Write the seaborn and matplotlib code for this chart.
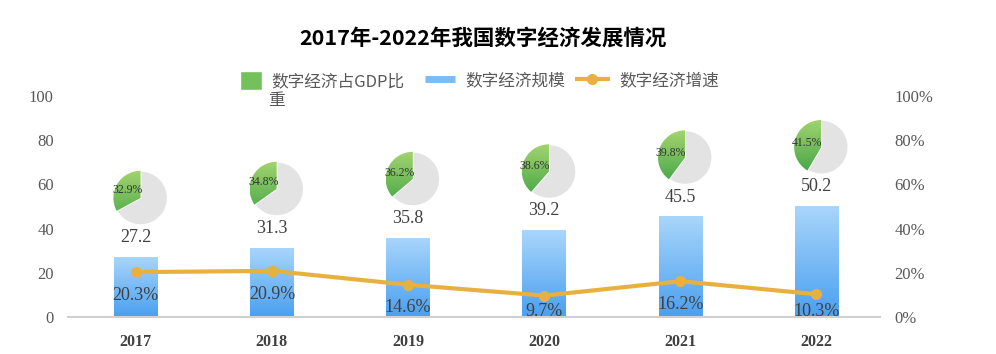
import numpy as np
import matplotlib
matplotlib.use("Agg")
from matplotlib import pyplot as plt
from matplotlib.patches import Patch
from matplotlib.lines import Line2D
from matplotlib.colors import LinearSegmentedColormap
import seaborn as sns

years = ["2017", "2018", "2019", "2020", "2021", "2022"]
scale = [27.2, 31.3, 35.8, 39.2, 45.5, 50.2]        # 数字经济规模
growth = [20.3, 20.9, 14.6, 9.7, 16.2, 10.3]        # 数字经济增速 (%)
gdp_share = [32.9, 34.8, 36.2, 38.6, 39.8, 41.5]    # 数字经济占GDP比重 (%)

sns.set_theme(style="white")
plt.rcParams['font.family'] = ['Noto Sans CJK SC', 'DejaVu Sans']
serif = ['Liberation Serif', 'DejaVu Serif']

blue_cmap = LinearSegmentedColormap.from_list("b", ["#4a9ff0", "#a9d6fb"])
green_cmap = LinearSegmentedColormap.from_list("g", ["#44a548", "#a3d46e"])
line_color = "#e8b13f"
text_color = "#404040"
tick_color = "#595959"

fig = plt.figure(figsize=(9.96, 3.54), dpi=100)
ax = fig.add_axes([0.068, 0.1045, 0.816, 0.624])

sns.barplot(x=years, y=scale, ax=ax, color="#7bbcf5", width=0.32, saturation=1)
grad = np.linspace(0, 1, 256).reshape(-1, 1)
for p in ax.patches:
    x0, y0 = p.get_x(), p.get_y()
    w, h = p.get_width(), p.get_height()
    im = ax.imshow(grad, cmap=blue_cmap, aspect="auto", origin="lower",
                   extent=(x0, x0 + w, y0, y0 + h), zorder=1)
    im.set_clip_path(p)
    p.set_facecolor("none")
    p.set_edgecolor("none")

ax.set_xlim(-0.5, 5.47)
ax.set_ylim(0, 100)
ax.set_yticks(range(0, 101, 20))
ax.tick_params(axis="y", length=0, pad=10, labelcolor=tick_color)
ax.tick_params(axis="x", length=0, pad=12)
for lab in ax.get_yticklabels():
    lab.set_family(serif)
    lab.set_fontsize(12)
for lab in ax.get_xticklabels():
    lab.set_family(serif)
    lab.set_fontsize(11.5)
    lab.set_fontweight("bold")
    lab.set_color(text_color)
for s in ["top", "right", "left"]:
    ax.spines[s].set_visible(False)
ax.spines["bottom"].set_color("#d0d0d0")
ax.spines["bottom"].set_linewidth(1.5)

for i, v in enumerate(scale):
    ax.annotate(f"{v}", (i, v), xytext=(0, 14), textcoords="offset points",
                ha="center", va="center", fontsize=13, family=serif, color=text_color)

ax2 = ax.twinx()
sns.lineplot(x=list(range(len(years))), y=growth, ax=ax2, color=line_color,
             linewidth=3, marker="o", markersize=8, markeredgewidth=0)
ax2.set_ylim(0, 100)
ax2.set_yticks(range(0, 101, 20))
ax2.set_yticklabels([f"{t}%" for t in range(0, 101, 20)])
ax2.tick_params(axis="y", length=0, pad=10, labelcolor=tick_color)
for lab in ax2.get_yticklabels():
    lab.set_family(serif)
    lab.set_fontsize(12)
for s in ["top", "right", "left", "bottom"]:
    ax2.spines[s].set_visible(False)
for i, v in enumerate(growth):
    ax.text(i, max(v - 10.5, 2.3), f"{v}%", ha="center", va="center",
            fontsize=13, family=serif, color=text_color, zorder=5)

# pies above bars
for i, (v, sh) in enumerate(zip(scale, gdp_share)):
    pax = ax.inset_axes([i + 0.035 - 0.215, v + 26.7 - 12.9, 0.43, 25.8],
                        transform=ax.transData)
    wedges, _, autotexts = pax.pie([sh, 100 - sh], startangle=90, counterclock=True,
                                   colors=["#74c05a", "#e3e3e3"], autopct="%1.1f%%",
                                   pctdistance=0.55,
                                   wedgeprops=dict(edgecolor="white", linewidth=1.2))
    gim = pax.imshow(grad, cmap=green_cmap, origin="lower", extent=(-1, 1, -1, 1), zorder=1.5)
    gim.set_clip_path(wedges[0])
    autotexts[0].set_fontsize(8.5)
    autotexts[0].set_family(serif)
    autotexts[0].set_color("#333333")
    autotexts[0].set_zorder(3)
    autotexts[1].set_visible(False)
    pax.set_xlim(-1.05, 1.05)
    pax.set_ylim(-1.05, 1.05)
    pax.set_aspect("equal")
    pax.axis("off")

fig.text(0.485, 0.893, "2017年-2022年我国数字经济发展情况", ha="center", va="center",
         fontsize=15.5, fontweight="bold", color="#000000")

leg_kw = dict(frameon=False, fontsize=12, labelcolor=tick_color, handletextpad=0.6,
              borderaxespad=0, borderpad=0)
fig.legend([Patch(facecolor="#74c05a")], ["数字经济占GDP比"], loc="center left",
           bbox_to_anchor=(0.241, 0.772), handlelength=1.3, handleheight=1.3, **leg_kw)
fig.text(0.269, 0.717, "重", ha="left", va="center", fontsize=12, color=tick_color)
fig.legend([Line2D([0], [0], color="#7bbcf5", linewidth=5, solid_capstyle="butt")],
           ["数字经济规模"], loc="center left", bbox_to_anchor=(0.427, 0.772),
           handlelength=1.8, **leg_kw)
fig.legend([Line2D([0], [0], color=line_color, linewidth=3, marker="o", markersize=7,
                   solid_capstyle="butt")],
           ["数字经济增速"], loc="center left", bbox_to_anchor=(0.577, 0.772),
           handlelength=2.1, **leg_kw)

fig.savefig("out.png", dpi=100)
